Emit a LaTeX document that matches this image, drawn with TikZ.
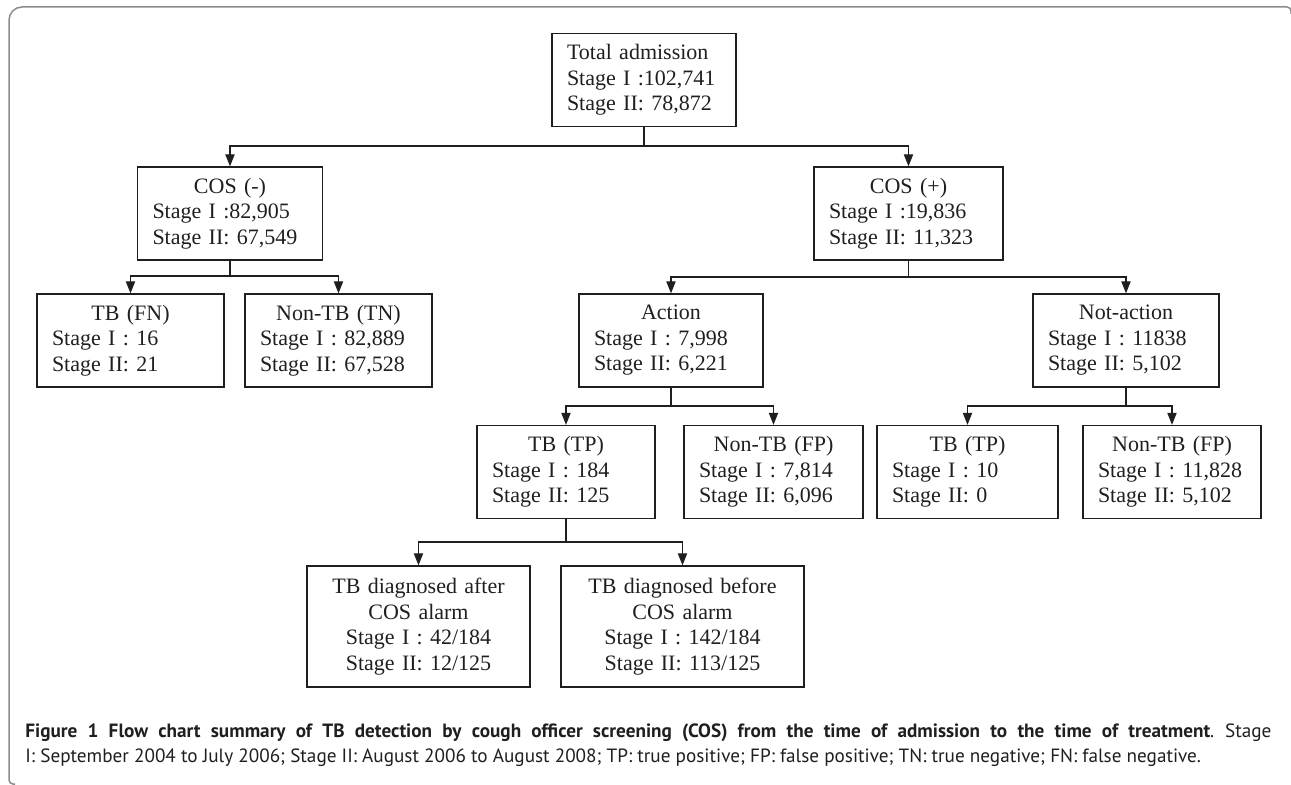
\documentclass[tikz,border=0pt]{standalone}
\usepackage{fontspec}
\setmainfont{Liberation Serif}
\newfontfamily\capfont{PT Sans}
\usetikzlibrary{arrows.meta}
\definecolor{framegray}{gray}{0.55}
\definecolor{ink}{gray}{0.12}
\newcommand{\boxhead}[1]{\makebox[\linewidth]{#1}}
\frenchspacing
\begin{document}
\begin{tikzpicture}[x=0.5pt, y=-0.5pt,
  every node/.style={font=\fontsize{11}{12.75}\selectfont, text=ink},
  cbox/.style={draw=ink, line width=0.65pt, inner xsep=7.5pt, inner ysep=0pt, minimum height=46.5pt, align=left, text width=#1},
  wbox/.style={cbox=#1, align=center, minimum height=60.5pt},
  link/.style={draw=ink, line width=0.65pt},
  arrow/.style={link, -{Triangle[length=6pt,width=4.6pt]}}]
  \useasboundingbox (0,0) rectangle (1291,785);
  \draw[framegray, line width=0.75pt] (15,784) [rounded corners=2pt] -| (9,400) [rounded corners=6.5pt] |- (640,7) [rounded corners=2pt] -| (1291,14);

  \node[cbox=77pt] (total) at (644,80) {Total admission\\Stage I :102,741\\Stage II: 78,872};
  \node[cbox=77.5pt] (cosneg) at (230,213.5) {\boxhead{COS (-)}\\Stage I :82,905\\Stage II: 67,549};
  \node[cbox=79.5pt] (cospos) at (908.5,213.5) {\boxhead{COS (+)}\\Stage I :19,836\\Stage II: 11,323};
  \node[cbox=78.5pt] (tbfn) at (130.5,340.5) {\boxhead{TB (FN)}\\Stage I : 16\\Stage II: 21};
  \node[cbox=78.5pt] (nontbtn) at (338.5,340.5) {\boxhead{Non-TB (TN)}\\Stage I : 82,889\\Stage II: 67,528};
  \node[cbox=77pt] (action) at (671,340.5) {\boxhead{Action}\\Stage I : 7,998\\Stage II: 6,221};
  \node[cbox=78pt] (notaction) at (1126,340.5) {\boxhead{Not-action}\\Stage I : 11838\\Stage II: 5,102};
  \node[cbox=74pt] (tbtp) at (566,472) {\boxhead{TB (TP)}\\Stage I : 184\\Stage II: 125};
  \node[cbox=74.5pt] (nontbfp) at (773.5,472) {\boxhead{Non-TB (FP)}\\Stage I : 7,814\\Stage II: 6,096};
  \node[cbox=75.5pt] (tbtpna) at (967.5,472) {\boxhead{TB (TP)}\\Stage I : 10\\Stage II: 0};
  \node[cbox=74pt] (nontbfpna) at (1172,472) {\boxhead{Non-TB (FP)}\\Stage I : 11,828\\Stage II: 5,102};
  \node[wbox=96.5pt] (after) at (418.5,626.5) {TB diagnosed after\\COS alarm\\Stage I : 42/184\\Stage II: 12/125};
  \node[wbox=106.5pt] (before) at (682.5,626.5) {TB diagnosed before\\COS alarm\\Stage I : 142/184\\Stage II: 113/125};

  \coordinate (j0) at (644,146);
  \coordinate (j1) at (230,276);
  \coordinate (j2) at (908.5,277);
  \coordinate (j3) at (671,406);
  \coordinate (j4) at (1126,406);
  \coordinate (j5) at (566,542);
  \draw[link] (total.south) -- (j0);
  \draw[arrow] (j0) -| (cosneg.north);
  \draw[arrow] (j0) -| (cospos.north);
  \draw[link] (cosneg.south) -- (j1);
  \draw[arrow] (j1) -| (tbfn.north);
  \draw[arrow] (j1) -| (nontbtn.north);
  \draw[link] (cospos.south) -- (j2);
  \draw[arrow] (j2) -| (action.north);
  \draw[arrow] (j2) -| (notaction.north);
  \draw[link] (action.south) -- (j3);
  \draw[arrow] (j3) -| (tbtp.north);
  \draw[arrow] (j3) -| (nontbfp.north);
  \draw[link] (notaction.south) -- (j4);
  \draw[arrow] (j4) -| (tbtpna.north);
  \draw[arrow] (j4) -| (nontbfpna.north);
  \draw[link] (tbtp.south) -- (j5);
  \draw[arrow] (j5) -| (after.north);
  \draw[arrow] (j5) -| (before.north);

  \node[font=\capfont\fontsize{9.6}{12.2}\selectfont, text width=623pt, align=justify, inner sep=0pt, anchor=base west] (caption) at (25,738) {\textbf{Figure 1 Flow chart summary of TB detection by cough officer screening (COS) from the time of admission to the time of treatment}. Stage\linebreak I: September 2004 to July 2006; Stage II: August 2006 to August 2008; TP: true positive; FP: false positive; TN: true negative; FN: false negative.};
\end{tikzpicture}
\end{document}
